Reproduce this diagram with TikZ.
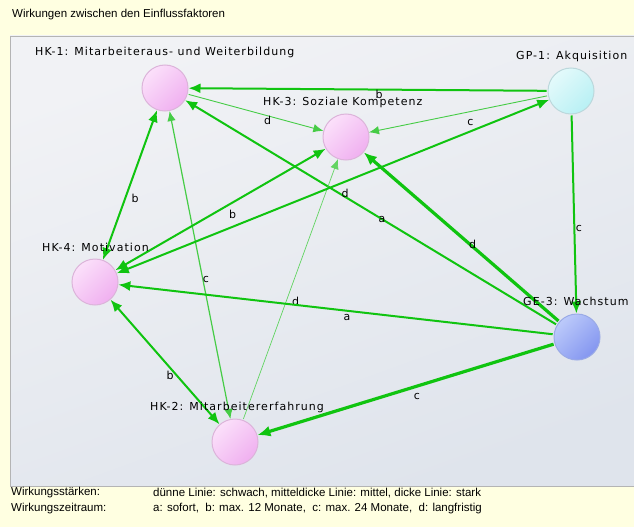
\documentclass[tikz,border=0pt]{standalone}
\usepackage{fontspec}
\setmainfont{Liberation Sans}
\newfontfamily\lblfont[LetterSpace=9.5]{DejaVu Sans}
\usetikzlibrary{arrows.meta,shadings}
\definecolor{bgyellow}{HTML}{FFFFE1}
\definecolor{panelA}{HTML}{F1F2F5}
\definecolor{panelB}{HTML}{DFE4EC}
\definecolor{panelline}{HTML}{B4B4B4}
\definecolor{pinkL}{HTML}{FBE0FA}
\definecolor{pinkD}{HTML}{F0B0F0}
\definecolor{pinkB}{HTML}{DCB4DA}
\definecolor{cyanL}{HTML}{E4FAFB}
\definecolor{cyanD}{HTML}{B8F0F4}
\definecolor{cyanB}{HTML}{BCD8DC}
\definecolor{blueL}{HTML}{BCCAFA}
\definecolor{blueD}{HTML}{8496F0}
\definecolor{blueB}{HTML}{9AAAE6}
\definecolor{edgeG}{RGB}{16,196,16}
\definecolor{edgeT}{RGB}{70,204,70}
\tikzset{
  fnode/.style={circle, minimum size=46pt, inner sep=0pt, line width=1pt},
  pinknode/.style={fnode, draw=pinkB, top color=pinkL, bottom color=pinkD, shading angle=45},
  cyannode/.style={fnode, draw=cyanB, top color=cyanL, bottom color=cyanD, shading angle=45},
  bluenode/.style={fnode, draw=blueB, top color=blueL, bottom color=blueD, shading angle=45},
  nlabel/.style={anchor=west, inner sep=0pt, font=\lblfont\fontsize{11}{13}\selectfont},
  elbl/.style={inner sep=0pt, font=\lblfont\fontsize{11}{13}\selectfont},
  legtxt/.style={anchor=west, inner sep=0pt, font=\fontsize{11.5}{13}\selectfont},
  thinE/.style={draw=edgeT, line width=0.9pt, shorten <=1pt, arrows={-Latex[length=10pt,width=8.5pt]}},
  thinnestE/.style={draw=edgeT!85!white, line width=0.7pt, shorten <=1pt, arrows={-Latex[length=10pt,width=8.5pt]}},
  medE/.style={draw=edgeG, line width=2pt, shorten <=1pt, arrows={-Latex[length=12pt,width=10pt]}},
  thickE/.style={draw=edgeG, line width=3.2pt, shorten <=1pt, arrows={-Latex[length=13pt,width=11pt]}},
  both/.style={shorten <=0pt, arrows={Latex[length=12pt,width=10pt]-Latex[length=12pt,width=10pt]}},
}
\begin{document}
\begin{tikzpicture}[x=1pt,y=-1pt]
\useasboundingbox (0,0) rectangle (634,527);
\fill[bgyellow] (0,0) rectangle (634,527);
\shade[top color=panelA, bottom color=panelB, shading angle=20] (10,36) rectangle (634,486);
\draw[panelline, line width=0.8pt] (634,486) -- (10,486) -- (10,36) -- (634,36);

\node[legtxt] (title) at (12,15) {Wirkungen zwischen den Einflussfaktoren};

% nodes
\node[pinknode] (hk1) at (165,88) {};
\node[pinknode] (hk3) at (346,137) {};
\node[cyannode] (gp1) at (571,91) {};
\node[pinknode] (hk4) at (95,282) {};
\node[bluenode] (ge3) at (577,337) {};
\node[pinknode] (hk2) at (235,442) {};

% edges
\draw[medE] (gp1) -- node[elbl, xshift=11pt, yshift=-5pt] (e1) {b} (hk1);
\draw[thinE] (hk1) -- node[elbl, xshift=12pt, yshift=-8pt] (e2) {d} (hk3);
\draw[thinE] (gp1) -- node[elbl, xshift=12pt, yshift=-8pt] (e3) {c} (hk3);
\draw[medE] (ge3) -- node[elbl, xshift=11pt, yshift=-7pt] (e4) {a} (hk1);
\draw[medE, both] (hk4) -- node[elbl, xshift=5pt, yshift=-13pt] (e5) {b} (hk1);
\draw[thinE, line width=1.2pt, shorten <=0pt, arrows={Latex[length=10pt,width=8.5pt]-Latex[length=10pt,width=8.5pt]}] (hk1) -- node[elbl, xshift=6pt, yshift=-14pt] (e6) {c} (hk2);
\draw[thinnestE] (hk2) -- node[elbl, xshift=5pt, yshift=-12pt] (e7) {d} (hk3);
\draw[medE, both] (hk4) -- node[elbl, xshift=12pt, yshift=-7pt] (e8) {d} (gp1);
\draw[medE, both] (hk4) -- node[elbl, xshift=12pt, yshift=-5pt] (e9) {b} (hk3);
\draw[thickE] (ge3) -- node[elbl, xshift=11pt, yshift=-7pt] (e10) {d} (hk3);
\draw[medE] (gp1) -- node[elbl, xshift=5pt, yshift=-14pt] (e11) {c} (ge3);
\draw[medE] (ge3) -- node[elbl, xshift=11pt, yshift=-8pt] (e12) {a} (hk4);
\draw[thickE] (ge3) -- node[elbl, xshift=11pt, yshift=-7pt] (e13) {c} (hk2);
\draw[medE, both] (hk4) -- node[elbl, xshift=5pt, yshift=-13pt] (e14) {b} (hk2);

% node labels
\node[nlabel] (t1) at (35,52) {HK-1: Mitarbeiteraus- und Weiterbildung};
\node[nlabel] (t3) at (263,102) {HK-3: Soziale Kompetenz};
\node[nlabel] (tg) at (516,56) {GP-1: Akquisition};
\node[nlabel] (t4) at (42,247) {HK-4: Motivation};
\node[nlabel] (tw) at (523,301) {GE-3: Wachstum};
\node[nlabel] (t2) at (150,407) {HK-2: Mitarbeitererfahrung};

% legend
\node[legtxt] (lg1) at (11,493) {Wirkungsstärken:};
\node[legtxt] (lg2) at (153,493) {dünne Linie: schwach, mitteldicke Linie: mittel, dicke Linie: stark};
\node[legtxt] (lg3) at (11,509) {Wirkungszeitraum:};
\node[legtxt] (lg4) at (153,509) {a: sofort,\ \ b: max. 12 Monate,\ \ c: max. 24 Monate,\ \ d: langfristig};
\end{tikzpicture}
\end{document}
